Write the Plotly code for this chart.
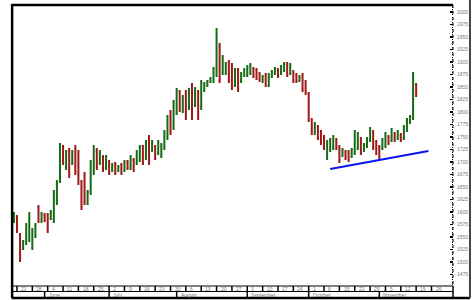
import pandas as pd
import plotly.graph_objects as go

# ---------------- data ----------------
start_date = "2012-05-18"
calendar_end = "2012-12-14"

opens = [1584, 1590, 1556, 1528, 1540, 1548, 1530, 1552, 1610, 1582,
         1594, 1592, 1588, 1586, 1620, 1664, 1730, 1690, 1722, 1698,
         1728, 1718, 1660, 1672, 1618, 1640, 1680, 1722, 1698, 1710,
         1688, 1700, 1684, 1696, 1684, 1694, 1684, 1700, 1688, 1704,
         1698, 1704, 1730, 1708, 1748, 1724, 1730, 1718, 1712, 1728,
         1750, 1798, 1770, 1800, 1840, 1802, 1838, 1808, 1852, 1814,
         1840, 1810, 1844, 1852, 1860, 1862, 1876, 1930, 1878, 1878,
         1898, 1892, 1854, 1884, 1862, 1872, 1874, 1878, 1886, 1884,
         1876, 1860, 1874, 1854, 1870, 1876, 1884, 1878, 1884, 1896,
         1878, 1880, 1874, 1862, 1874, 1860, 1836, 1784, 1758, 1770,
         1760, 1750, 1708, 1724, 1728, 1744, 1730, 1712, 1720, 1720,
         1710, 1718, 1728, 1746, 1722, 1730, 1744, 1760, 1740, 1730,
         1726, 1732, 1750, 1744, 1756, 1748, 1754, 1748, 1764, 1778,
         1790, 1854]
highs = [1600, 1594, 1558, 1544, 1578, 1600, 1568, 1578, 1614, 1600,
         1598, 1598, 1604, 1644, 1664, 1738, 1734, 1724, 1728, 1724,
         1734, 1724, 1664, 1680, 1644, 1704, 1734, 1728, 1724, 1714,
         1714, 1704, 1698, 1700, 1694, 1698, 1704, 1704, 1714, 1708,
         1724, 1734, 1734, 1744, 1754, 1744, 1734, 1744, 1738, 1764,
         1794, 1804, 1824, 1848, 1844, 1834, 1844, 1848, 1858, 1850,
         1844, 1864, 1860, 1864, 1870, 1890, 1968, 1938, 1914, 1900,
         1904, 1898, 1888, 1888, 1880, 1888, 1894, 1898, 1890, 1888,
         1880, 1874, 1878, 1878, 1884, 1890, 1888, 1894, 1900, 1900,
         1898, 1884, 1878, 1874, 1878, 1864, 1840, 1788, 1780, 1774,
         1764, 1754, 1744, 1748, 1754, 1748, 1734, 1728, 1724, 1724,
         1728, 1764, 1760, 1750, 1738, 1750, 1770, 1764, 1744, 1734,
         1748, 1760, 1754, 1768, 1760, 1764, 1758, 1774, 1788, 1794,
         1880, 1858]
lows = [1578, 1558, 1500, 1524, 1534, 1540, 1524, 1548, 1578, 1578,
        1580, 1558, 1584, 1578, 1614, 1658, 1694, 1684, 1668, 1694,
        1674, 1654, 1604, 1614, 1614, 1634, 1674, 1684, 1694, 1680,
        1684, 1674, 1680, 1674, 1680, 1674, 1680, 1684, 1684, 1680,
        1694, 1700, 1694, 1704, 1694, 1720, 1704, 1714, 1708, 1724,
        1744, 1754, 1764, 1794, 1800, 1798, 1784, 1804, 1784, 1810,
        1784, 1804, 1840, 1850, 1858, 1858, 1870, 1858, 1874, 1874,
        1858, 1844, 1850, 1840, 1858, 1870, 1870, 1874, 1868, 1864,
        1860, 1858, 1850, 1850, 1868, 1874, 1868, 1874, 1880, 1870,
        1874, 1858, 1858, 1860, 1840, 1834, 1780, 1754, 1754, 1744,
        1734, 1724, 1704, 1720, 1724, 1724, 1698, 1710, 1704, 1700,
        1708, 1714, 1724, 1714, 1720, 1728, 1740, 1724, 1714, 1704,
        1724, 1728, 1734, 1740, 1740, 1744, 1740, 1744, 1760, 1776,
        1784, 1830]
closes = [1596, 1564, 1510, 1540, 1572, 1592, 1562, 1574, 1582, 1596,
          1584, 1566, 1600, 1636, 1656, 1730, 1700, 1718, 1676, 1720,
          1680, 1662, 1610, 1622, 1640, 1698, 1728, 1690, 1718, 1686,
          1710, 1678, 1694, 1680, 1690, 1678, 1700, 1688, 1710, 1684,
          1720, 1730, 1698, 1740, 1700, 1740, 1708, 1740, 1734, 1760,
          1788, 1760, 1818, 1842, 1806, 1828, 1790, 1844, 1792, 1846,
          1790, 1858, 1856, 1862, 1868, 1886, 1950, 1864, 1908, 1896,
          1864, 1850, 1884, 1846, 1876, 1884, 1890, 1894, 1872, 1868,
          1864, 1870, 1854, 1874, 1880, 1886, 1872, 1890, 1896, 1874,
          1894, 1862, 1862, 1870, 1846, 1840, 1786, 1760, 1776, 1748,
          1738, 1728, 1738, 1744, 1750, 1728, 1704, 1724, 1708, 1704,
          1724, 1758, 1756, 1718, 1734, 1746, 1766, 1728, 1718, 1708,
          1744, 1756, 1738, 1764, 1744, 1760, 1744, 1770, 1784, 1790,
          1860, 1836]

trend_dates = ["2012-10-10", "2012-11-23"]
trend_values = [1686, 1722]

y_tick_values = list(range(2000, 1450, -25))
month_names = {6: "June", 7: "July", 8: "August", 9: "September",
               10: "October", 11: "November"}

# ---------------- calendar (trading-day index axis) ----------------
calendar = pd.bdate_range(start_date, calendar_end)
pos = {d: i for i, d in enumerate(calendar)}
n = len(closes)
x_idx = list(range(n))

GREEN = "#176b17"
RED = "#a01818"

fig = go.Figure()
fig.add_trace(go.Ohlc(
    x=x_idx, open=opens, high=highs, low=lows, close=closes,
    increasing=dict(line=dict(color=GREEN, width=2)),
    decreasing=dict(line=dict(color=RED, width=2)),
    tickwidth=0.35, showlegend=False, hoverinfo="skip"))

tx = [pos[pd.Timestamp(d)] for d in trend_dates]
fig.add_trace(go.Scatter(x=tx, y=trend_values, mode="lines",
                         line=dict(color="#0a16f0", width=2.2),
                         showlegend=False, hoverinfo="skip"))

X_MAX = 143.0
shapes = []
annotations = []
LBL = dict(family="Liberation Sans, Arial, sans-serif", size=5, color="#777")

# date row: Monday separators
ROW1_TOP, ROW1_BOT, ROW2_BOT = 0.0, -0.0196, -0.0409
for d, i in pos.items():
    if d.weekday() == 0 and i <= 136:
        shapes.append(dict(type="line", xref="x", yref="paper", x0=i, x1=i,
                           y0=ROW1_TOP, y1=ROW1_BOT,
                           line=dict(color="black", width=1.5)))
        annotations.append(dict(xref="x", yref="paper", x=i + 0.7, y=-0.0098,
                                text=str(d.day), showarrow=False,
                                xanchor="left", yanchor="middle", font=LBL))
# month row
seen = set()
for d, i in pos.items():
    if i > X_MAX:
        break
    if d.month in month_names and d.month not in seen and i > 0:
        seen.add(d.month)
        shapes.append(dict(type="line", xref="x", yref="paper", x0=i, x1=i,
                           y0=ROW1_BOT, y1=ROW2_BOT,
                           line=dict(color="black", width=1.5)))
        annotations.append(dict(xref="x", yref="paper", x=i + 0.7, y=-0.0303,
                                text=month_names[d.month], showarrow=False,
                                xanchor="left", yanchor="middle", font=LBL))

# frame lines (paper coords)
def hline(y, x0, x1, w, c="black"):
    shapes.append(dict(type="line", xref="paper", yref="paper", x0=x0, x1=x1,
                       y0=y, y1=y, line=dict(color=c, width=w)))

def vline(x, y0, y1, w, c="black", dash="solid"):
    shapes.append(dict(type="line", xref="paper", yref="paper", x0=x, x1=x,
                       y0=y0, y1=y1, line=dict(color=c, width=w, dash=dash)))

hline(ROW1_TOP, 0, 1, 1.2)
hline(ROW1_BOT, 0, 1, 1.2)
hline(-0.0427, -0.003, 1.0386, 2.5)
hline(1.0, -0.003, 1.0, 2.5)
vline(-0.002, -0.0427, 1.004, 2.5)
vline(1.0, 1.0, 0.0, 1, "black", "dot")
vline(1.0, 0.0, -0.0427, 1.5)
vline(1.0386, -0.0427, 1.02, 2, "#444")

fig.update_layout(
    width=473, height=300,
    margin=dict(l=13, r=20, t=5, b=14, autoexpand=False),
    paper_bgcolor="white", plot_bgcolor="white",
    shapes=shapes, annotations=annotations,
    xaxis=dict(range=[-0.3, X_MAX], showgrid=False, zeroline=False,
               showticklabels=False, showline=False, ticks="",
               rangeslider=dict(visible=False), fixedrange=True),
    yaxis=dict(range=[1452, 2014], side="right", showgrid=False,
               zeroline=False, showline=False, automargin=False,
               tickvals=y_tick_values, ticktext=[str(v) for v in y_tick_values],
               ticks="inside", ticklen=3, tickwidth=1.2, tickcolor="black",
               minor=dict(ticks="inside", dtick=5, ticklen=1, tickwidth=1,
                          tickcolor="black"),
               tickfont=LBL, ticklabelstandoff=3, fixedrange=True),
)

fig.write_html("out.html",
               config={"displayModeBar": False, "staticPlot": True},
               post_script="document.body.style.margin='0';"
                           "document.body.style.overflow='hidden';")
